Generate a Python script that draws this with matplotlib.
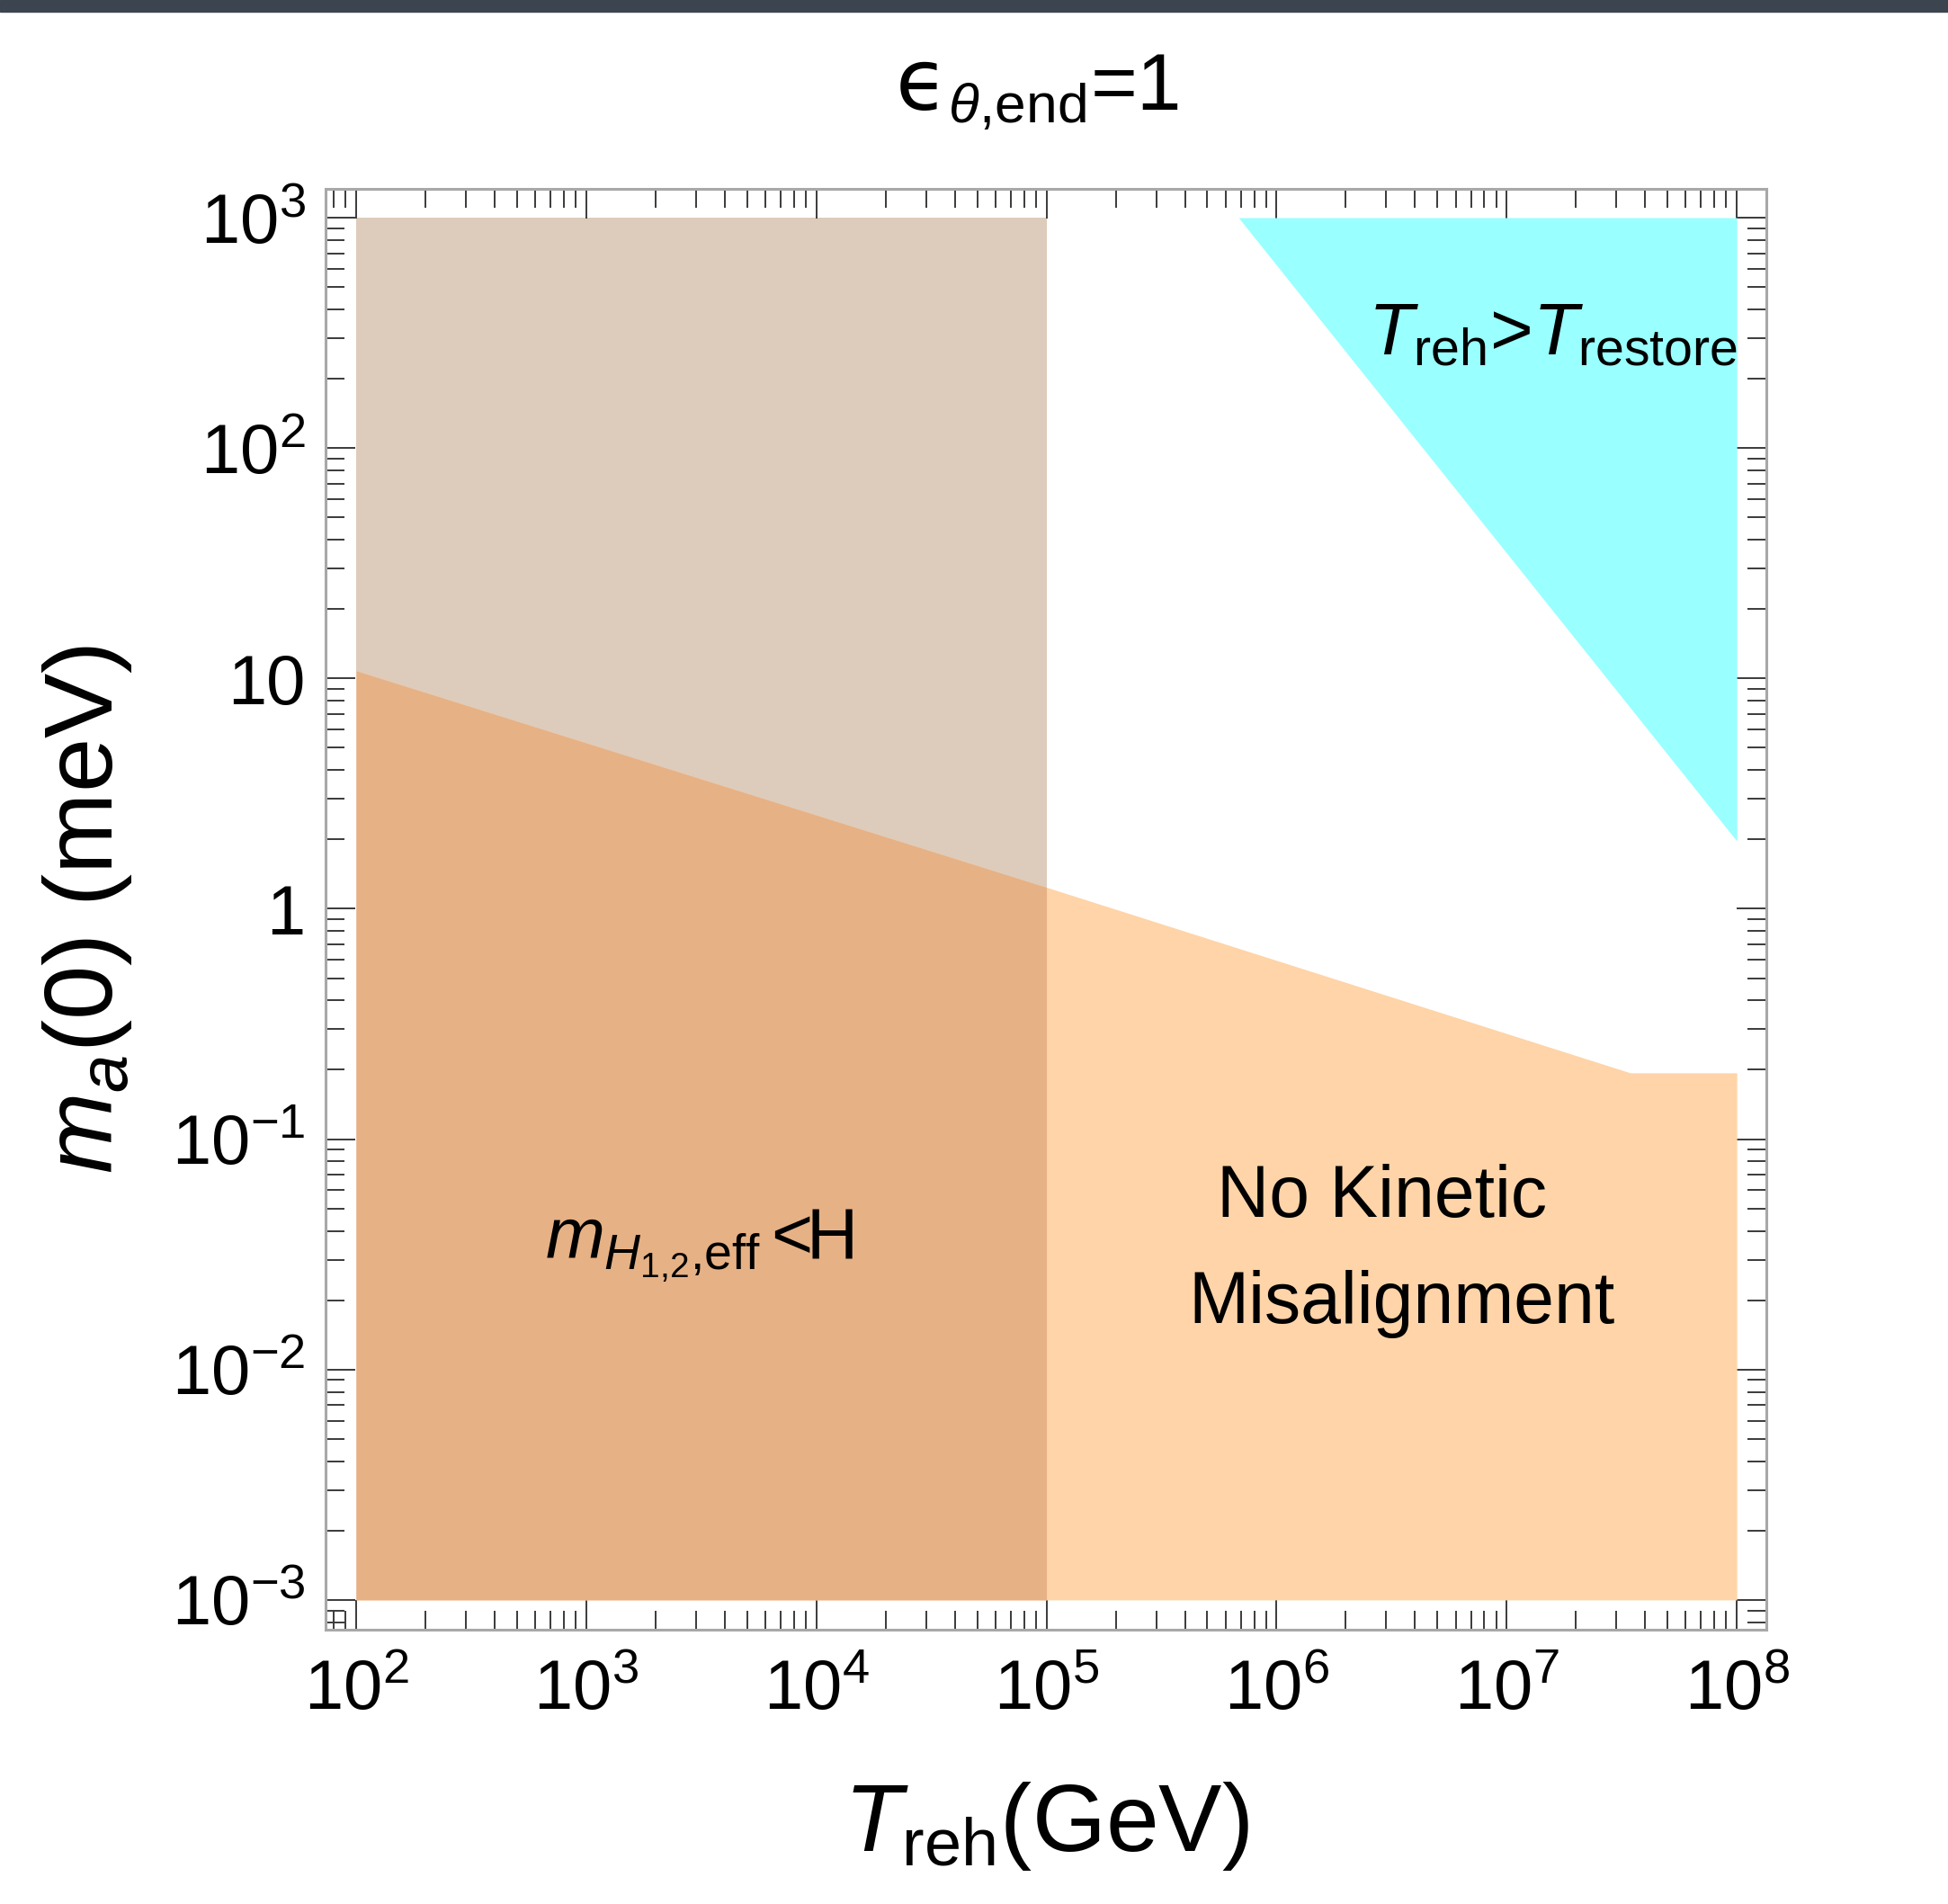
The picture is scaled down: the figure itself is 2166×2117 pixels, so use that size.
import numpy as np
import matplotlib
matplotlib.use('Agg')
import matplotlib.pyplot as plt
from matplotlib.patches import Rectangle
from matplotlib.ticker import FixedLocator, FixedFormatter, LogLocator, NullFormatter

plt.rcParams['font.family'] = ['Liberation Sans', 'DejaVu Sans']
plt.rcParams['mathtext.fontset'] = 'custom'
plt.rcParams['mathtext.rm'] = 'Liberation Sans'
plt.rcParams['mathtext.it'] = 'Liberation Sans:italic'
plt.rcParams['mathtext.bf'] = 'Liberation Sans:bold'
plt.rcParams['mathtext.sf'] = 'Liberation Sans'
plt.rcParams['mathtext.fallback'] = 'stixsans'

# ---- data ----
# region where m_H1,2,eff < H (vertical band)
band_T = [1e2, 1e5]
# "No Kinetic Misalignment" upper boundary
nokmr_T = [1e2, 1e5, 3.45e7, 1e8]
nokmr_m = [10.8, 1.24, 0.194, 0.194]
# T_reh > T_restore triangle (lower boundary)
restore_T = [6.84e5, 1e8]
restore_m = [1e3, 1.97]

ymin_data, ymax_data = 1e-3, 1e3

xtick_vals = [1e2, 1e3, 1e4, 1e5, 1e6, 1e7, 1e8]
xtick_labels = [r'$10^{2}$', r'$10^{3}$', r'$10^{4}$', r'$10^{5}$',
                r'$10^{6}$', r'$10^{7}$', r'$10^{8}$']
ytick_vals = [1e-3, 1e-2, 1e-1, 1, 10, 1e2, 1e3]
ytick_labels = [r'$10^{-3}$', r'$10^{-2}$', r'$10^{-1}$', '1', '10',
                r'$10^{2}$', r'$10^{3}$']

c_band = '#ddccbc'
c_orange = '#fed4a8'
c_overlap = '#e6b185'
c_cyan = '#99ffff'

fig = plt.figure(figsize=(21.66, 21.17), dpi=100)
# dark strip at the very top of the screenshot
fig.patches.append(Rectangle((0, 1 - 13 / 2117.), 1, 13 / 2117., transform=fig.transFigure,
                             color='#3c4450', zorder=10))

ax = fig.add_axes([0.1671, 0.1441, 0.7397, 0.7567])
ax.set_xscale('log')
ax.set_yscale('log')

ax.fill_between(band_T, ymin_data, ymax_data, color=c_band, lw=0, zorder=1)
ax.fill_between(nokmr_T, ymin_data, nokmr_m, color=c_orange, lw=0, zorder=2)
ov_T = [t for t in nokmr_T if t <= band_T[1]]
ov_m = nokmr_m[:len(ov_T)]
ax.fill_between(ov_T, ymin_data, ov_m, color=c_overlap, lw=0, zorder=3)
ax.fill_between(restore_T, restore_m, ymax_data, color=c_cyan, lw=0, zorder=2)

ax.set_xlim(10 ** 1.867, 10 ** 8.129)
ax.set_ylim(10 ** -3.129, 10 ** 3.125)

ax.xaxis.set_major_locator(FixedLocator(xtick_vals))
ax.xaxis.set_major_formatter(FixedFormatter(xtick_labels))
ax.yaxis.set_major_locator(FixedLocator(ytick_vals))
ax.yaxis.set_major_formatter(FixedFormatter(ytick_labels))
ax.xaxis.set_minor_locator(LogLocator(base=10, subs=np.arange(2, 10), numticks=50))
ax.yaxis.set_minor_locator(LogLocator(base=10, subs=np.arange(2, 10), numticks=50))
ax.xaxis.set_minor_formatter(NullFormatter())
ax.yaxis.set_minor_formatter(NullFormatter())

ax.tick_params(which='both', direction='in', top=True, right=True, color='#3a3a3a',
               width=1.4, labelsize=56)
ax.tick_params(which='major', length=23.5)
ax.tick_params(which='minor', length=15)
ax.tick_params(axis='x', which='major', pad=23)
ax.tick_params(axis='y', which='major', pad=16)

for sp in ax.spines.values():
    sp.set_color('#a8a8a8')
    sp.set_linewidth(2.2)
    sp.set_zorder(5)

ax.set_xlabel(r'$T_{\mathrm{reh}}$(GeV)', fontsize=76, labelpad=45)
ax.set_ylabel(r'$m_a$(0) (meV)', fontsize=78, labelpad=30)

# title: upright lunate epsilon + subscript
tx, ty = 1054 / 2166., 1 - 122 / 2117.
fig.text(tx, ty, '\u03f5', fontsize=68, family='DejaVu Sans',
         ha='right', va='baseline')
fig.text(tx, ty, r'${}_{\theta{,}\mathrm{end}}$=1', fontsize=64, ha='left', va='baseline')

ax.text(10 ** 3.49, 10 ** -1.52, r'$m_{H_{1{,}2}{,}\mathrm{eff}}\,$<H', fontsize=57,
        ha='center', va='baseline', zorder=6)
ax.text(10 ** 6.457, 10 ** -1.336, 'No Kinetic', fontsize=58, ha='center', va='baseline', zorder=6)
ax.text(10 ** 6.543, 10 ** -1.797, 'Misalignment', fontsize=58, ha='center', va='baseline', zorder=6)
ax.text(10 ** 7.2, 10 ** 2.403, r'$T_{\mathrm{reh}}$>$T_{\mathrm{restore}}$', fontsize=59,
        ha='center', va='baseline', zorder=6)

plt.savefig('out.png', dpi=100)
